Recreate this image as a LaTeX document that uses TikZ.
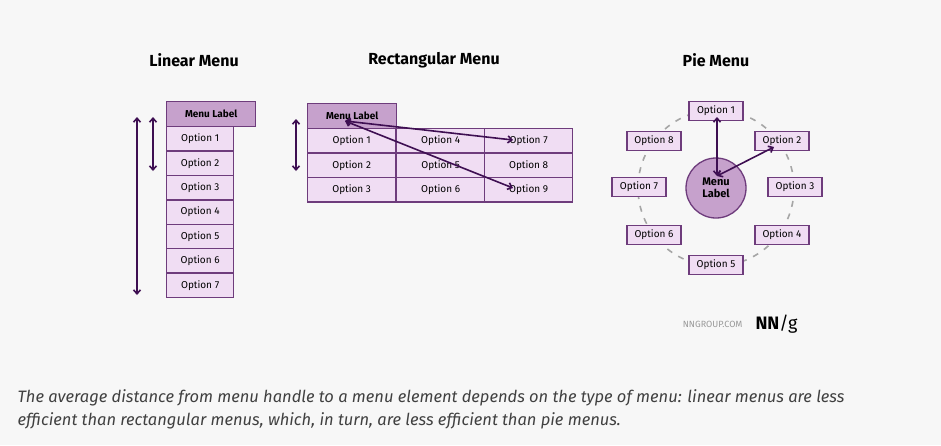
\documentclass[tikz,border=0pt]{standalone}
\usepackage{fontspec}
\setmainfont{Fira Sans}
\usetikzlibrary{arrows.meta}
\definecolor{bg}{HTML}{F7F7F7}
\definecolor{lab}{HTML}{C6A1CC}
\definecolor{opt}{HTML}{F0DDF3}
\definecolor{brd}{HTML}{6E3C7C}
\definecolor{arr}{HTML}{3E0F52}
\begin{document}
\begin{tikzpicture}[x=1pt,y=-1pt,
  box/.style={draw=brd,line width=1.3pt,fill=opt,font=\fontsize{10}{12}\selectfont,inner sep=0pt,anchor=north west},
  lbox/.style={box,fill=lab,font=\fontsize{10}{12}\selectfont\bfseries},
  pbox/.style={draw=brd,line width=1.3pt,fill=opt,font=\fontsize{10}{12}\selectfont,minimum width=54pt,minimum height=19pt,inner sep=0pt},
  ttl/.style={font=\fontsize{16}{18}\selectfont\bfseries},
  ar/.style={draw=arr,line width=1.6pt,{Straight Barb[length=4pt,width=7pt]}-{Straight Barb[length=4pt,width=7pt]}}]
\fill[bg] (0,0) rectangle (941,445);
\useasboundingbox (0,0) rectangle (941,445);
% titles
\node[ttl] (t1) at (194,60) {Linear Menu};
\node[ttl] (t2) at (434,60) {Rectangular Menu};
\node[ttl] (t3) at (716,60) {Pie Menu};
% linear
\node[lbox,minimum width=89pt,minimum height=25pt] (lml) at (166,101) {Menu Label};
\foreach \i in {1,...,7}{
  \node[box,minimum width=67pt,minimum height=24.4pt] (lo\i) at (166,{126+(\i-1)*24.4}) {Option \i};
}
\coordinate (a1) at (137,117); \coordinate (a2) at (137,295);
\coordinate (b1) at (153,117); \coordinate (b2) at (153,171);
\draw[ar] (a1) -- (a2);
\draw[ar] (b1) -- (b2);
% rectangular
\node[lbox,minimum width=89pt,minimum height=25pt] (rml) at (307,103) {Menu Label};
\foreach \c/\x in {0/307,1/396,2/484}{
  \foreach \r in {1,2,3}{
    \pgfmathtruncatemacro{\n}{\c*3+\r}
    \node[box,minimum width=88pt,minimum height=24.4pt] (ro\n) at (\x,{128+(\r-1)*24.4}) {Option \n};
  }
}
\coordinate (c1) at (296,119); \coordinate (c2) at (296,171);
\draw[ar] (c1) -- (c2);
\coordinate (h) at (345,121);
\coordinate (e7) at (513,140); \coordinate (e9) at (513,188);
\draw[ar] (h) -- (e7);
\draw[ar] (h) -- (e9);
% pie
\draw[gray!70,line width=1.6pt,dash pattern=on 6pt off 7pt] (716,188) circle (78);
\node[circle,draw=brd,line width=1.3pt,fill=lab,minimum size=60pt,inner sep=0pt,align=center,font=\fontsize{11}{12}\selectfont\bfseries] (pm) at (716,188) {Menu\\Label};
\node[pbox] (p1) at (716,111) {Option 1};
\node[pbox] (p2) at (782,141) {Option 2};
\node[pbox] (p3) at (795,187) {Option 3};
\node[pbox] (p4) at (782,235) {Option 4};
\node[pbox] (p5) at (716,265) {Option 5};
\node[pbox] (p6) at (654,235) {Option 6};
\node[pbox] (p7) at (639,187) {Option 7};
\node[pbox] (p8) at (654,141) {Option 8};
\coordinate (q0) at (717,176);
\coordinate (q1) at (717,117);
\coordinate (q2) at (774,147);
\draw[ar] (q1) -- (q0);
\draw[ar] (q2) -- (q0);
% logo
\node[anchor=east,text=gray!80,font=\fontsize{9}{10}\selectfont] (ng) at (746,324) {NNGROUP.COM};
\node[anchor=west,font=\fontsize{18}{20}\selectfont\bfseries] (nn) at (752,324) {NN\mdseries/g};
% caption
\node[anchor=west,text=black!75,font=\fontsize{16.5}{23}\selectfont\itshape\addfontfeature{}] (cap1) at (14,398) {The average distance from menu handle to a menu element depends on the type of menu: linear menus are less};
\node[anchor=west,text=black!75,font=\fontsize{16.5}{23}\selectfont\itshape] (cap2) at (14,421) {efficient than rectangular menus, which, in turn, are less efficient than pie menus.};
\end{tikzpicture}
\end{document}
